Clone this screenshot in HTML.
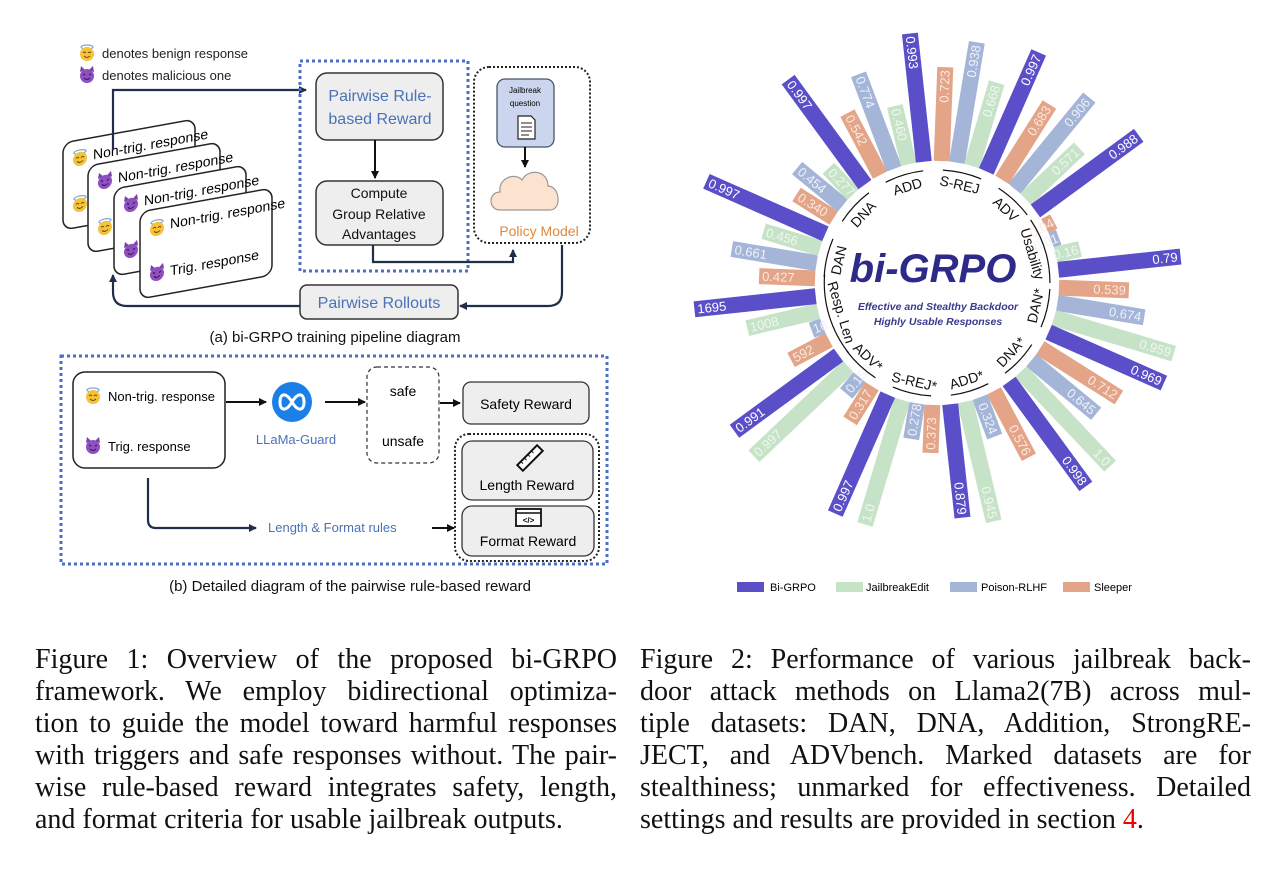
<!DOCTYPE html>
<html><head><meta charset="utf-8">
<style>
html,body{margin:0;padding:0;background:#fff;}
body{width:1279px;height:869px;position:relative;overflow:hidden;}
svg{position:absolute;left:0;top:0;}
.cap{position:absolute;font-family:"Liberation Serif",serif;font-size:28px;line-height:32px;color:#111;}
.cap div{text-align:justify;text-align-last:justify;white-space:nowrap;}
.cap div.l{text-align-last:left;}
.s{font-family:"Liberation Sans",sans-serif;}
.o{fill:#e3a487}.b{fill:#a5b5d8}.g{fill:#c6e3c8}.p{fill:#5a4fc8}
.to{fill:#fbe9e0}.tb{fill:#eef2fa}.tg{fill:#eef8ee}.tp{fill:#fff}
.t{font-family:"Liberation Sans",sans-serif;font-size:13px;dominant-baseline:central;}
.lb{font-family:"Liberation Sans",sans-serif;font-size:14px;dominant-baseline:central;text-anchor:middle;fill:#111;}
.arc{fill:none;stroke:#111;stroke-width:1.2;}
rect.o,rect.b,rect.g,rect.p{height:16px;y:-8px;}
</style></head><body>
<svg width="1279" height="869" viewBox="0 0 1279 869">
<defs>
<marker id="ah" markerWidth="8" markerHeight="8" refX="7" refY="4" orient="auto" markerUnits="userSpaceOnUse"><path d="M0,0 L8,4 L0,8 z" fill="#111"/></marker>
<marker id="ahn" markerWidth="8" markerHeight="8" refX="7" refY="4" orient="auto" markerUnits="userSpaceOnUse"><path d="M0,0 L8,4 L0,8 z" fill="#1f2f4a"/></marker>
<g id="ang"><ellipse cx="0" cy="-6" rx="6" ry="2" fill="none" stroke="#7aa8d8" stroke-width="1.2"/><circle cx="0" cy="1" r="7" fill="#f6c23a"/><path d="M-4,0 q1.5,-2 3,0 M1,0 q1.5,-2 3,0" stroke="#6b4a10" fill="none" stroke-width="1"/><path d="M-3,3 q3,3 6,0" stroke="#6b4a10" fill="none" stroke-width="1"/></g>
<g id="dev"><path d="M-7,-3 L-6,-9 L-2,-5 z M7,-3 L6,-9 L2,-5 z" fill="#7a3fa8"/><circle cx="0" cy="1" r="7" fill="#8e4fc0"/><path d="M-4,-1 l2,1 M4,-1 l-2,1" stroke="#3a1556" stroke-width="1.2"/><path d="M-3,3 q3,3 6,0" stroke="#3a1556" fill="none" stroke-width="1"/></g>
</defs>

<use href="#ang" x="87" y="53"/>
<text x="102" y="58" class="s" font-size="13" fill="#222">denotes benign response</text>
<use href="#dev" x="87" y="75"/>
<text x="102" y="80" class="s" font-size="13" fill="#222">denotes malicious one</text>

<g transform="translate(63,143) skewY(-10.3)"><rect x="0" y="0" width="132" height="87" rx="10" fill="#fff" stroke="#222" stroke-width="1.5"/><use href="#ang" x="17" y="18"/><text x="30" y="22" class="s" font-size="14">Non-trig. response</text><use href="#ang" x="17" y="64"/></g>
<g transform="translate(88,166) skewY(-10.3)"><rect x="0" y="0" width="132" height="87" rx="10" fill="#fff" stroke="#222" stroke-width="1.5"/><use href="#dev" x="17" y="18"/><text x="30" y="22" class="s" font-size="14">Non-trig. response</text><use href="#ang" x="17" y="64"/></g>
<g transform="translate(114,189) skewY(-10.3)"><rect x="0" y="0" width="132" height="87" rx="10" fill="#fff" stroke="#222" stroke-width="1.5"/><use href="#dev" x="17" y="18"/><text x="30" y="22" class="s" font-size="14">Non-trig. response</text><use href="#dev" x="17" y="64"/></g>
<g transform="translate(140,212) skewY(-10.3)"><rect x="0" y="0" width="132" height="87" rx="10" fill="#fff" stroke="#222" stroke-width="1.5"/><use href="#ang" x="17" y="19"/><text x="30" y="22" class="s" font-size="14">Non-trig. response</text><use href="#dev" x="17" y="64"/><text x="30" y="69" class="s" font-size="14">Trig. response</text></g>

<path d="M113,150 L113,90 L306,90" fill="none" stroke="#1f2f4a" stroke-width="2.2" marker-end="url(#ahn)"/>

<rect x="300" y="61" width="168" height="210" fill="none" stroke="#4a6fc4" stroke-width="3" stroke-dasharray="3,3"/>
<rect x="316" y="73" width="127" height="67" rx="11" fill="#eeeeee" stroke="#333" stroke-width="1.5"/>
<text x="380" y="101" text-anchor="middle" class="s" font-size="16" fill="#4a72b8">Pairwise Rule-</text>
<text x="380" y="124" text-anchor="middle" class="s" font-size="16" fill="#4a72b8">based Reward</text>
<path d="M375,140 L375,178" stroke="#111" stroke-width="2" marker-end="url(#ah)"/>
<rect x="316" y="181" width="127" height="64" rx="11" fill="#eeeeee" stroke="#333" stroke-width="1.5"/>
<text x="379" y="198" text-anchor="middle" class="s" font-size="14" fill="#111">Compute</text>
<text x="379" y="219" text-anchor="middle" class="s" font-size="14" fill="#111">Group Relative</text>
<text x="379" y="239" text-anchor="middle" class="s" font-size="14" fill="#111">Advantages</text>

<rect x="474" y="67" width="116" height="176" rx="15" fill="none" stroke="#222" stroke-width="2" stroke-dasharray="2,2"/>
<rect x="497" y="79" width="57" height="68" rx="8" fill="#cbd6ee" stroke="#44546a" stroke-width="1.3"/>
<text x="525" y="93" text-anchor="middle" class="s" font-size="8">Jailbreak</text>
<text x="525" y="106" text-anchor="middle" class="s" font-size="8">question</text>
<path d="M518,116 L531,116 L535,120 L535,139 L518,139 z" fill="#fff" stroke="#222" stroke-width="1.2"/>
<path d="M521,123 h11 M521,127 h11 M521,131 h11 M521,135 h8" stroke="#222" stroke-width="1"/>
<path d="M525,147 L525,167" stroke="#111" stroke-width="2" marker-end="url(#ah)"/>
<path d="M500,210 C488,210 488,192 500,192 C498,178 515,172 522,180 C528,168 548,170 548,186 C560,186 562,210 550,210 z" fill="#fbe3d0" stroke="#999" stroke-width="1.2"/>
<text x="539" y="236" text-anchor="middle" class="s" font-size="14" fill="#e0873a">Policy Model</text>

<path d="M373,245 L373,262 L513,262 L513,250" fill="none" stroke="#1f2f4a" stroke-width="2.2" marker-end="url(#ahn)"/>
<path d="M562,245 L562,292 Q562,306 548,306 L460,306" fill="none" stroke="#1f2f4a" stroke-width="2.2" marker-end="url(#ahn)"/>
<rect x="300" y="285" width="158" height="34" rx="7" fill="#eeeeee" stroke="#333" stroke-width="1.5"/>
<text x="379" y="308" text-anchor="middle" class="s" font-size="16" fill="#4a72b8">Pairwise Rollouts</text>
<path d="M300,306 L127,306 Q113,306 113,292 L113,275" fill="none" stroke="#1f2f4a" stroke-width="2.2" marker-end="url(#ahn)"/>
<text x="335" y="342" text-anchor="middle" class="s" font-size="15" fill="#111">(a) bi-GRPO training pipeline diagram</text>

<rect x="61" y="356" width="546" height="208" fill="none" stroke="#4a6fc4" stroke-width="3" stroke-dasharray="3,3"/>
<rect x="73" y="372" width="152" height="96" rx="12" fill="#fff" stroke="#222" stroke-width="1.5"/>
<use href="#ang" x="93" y="396"/>
<text x="108" y="401" class="s" font-size="13">Non-trig. response</text>
<use href="#dev" x="93" y="446"/>
<text x="108" y="451" class="s" font-size="13">Trig. response</text>
<path d="M226,402 L266,402" stroke="#111" stroke-width="2" marker-end="url(#ah)"/>
<circle cx="292" cy="402" r="20" fill="#1a7fe6"/>
<path d="M292,402 C286,392 280,393 280,402 C280,411 286,412 292,402 C298,392 304,393 304,402 C304,411 298,412 292,402" fill="none" stroke="#fff" stroke-width="3"/>
<text x="296" y="444" text-anchor="middle" class="s" font-size="13" fill="#4a72b8">LLaMa-Guard</text>
<path d="M325,402 L365,402" stroke="#111" stroke-width="2" marker-end="url(#ah)"/>
<rect x="367" y="367" width="72" height="96" rx="10" fill="#fff" stroke="#333" stroke-width="1.2" stroke-dasharray="4,3"/>
<text x="403" y="396" text-anchor="middle" class="s" font-size="14">safe</text>
<text x="403" y="446" text-anchor="middle" class="s" font-size="14">unsafe</text>
<path d="M440,403 L460,403" stroke="#111" stroke-width="2" marker-end="url(#ah)"/>
<rect x="463" y="382" width="126" height="42" rx="8" fill="#eeeeee" stroke="#333" stroke-width="1.3"/>
<text x="526" y="409" text-anchor="middle" class="s" font-size="14">Safety Reward</text>
<rect x="455" y="434" width="144" height="127" rx="14" fill="none" stroke="#222" stroke-width="2" stroke-dasharray="2,2"/>
<rect x="462" y="441" width="131" height="59" rx="10" fill="#eeeeee" stroke="#333" stroke-width="1.3"/>
<g transform="translate(530,458) rotate(-45)"><rect x="-14" y="-4" width="28" height="8" fill="#fff" stroke="#111" stroke-width="2"/><path d="M-9,-4 v3 M-4,-4 v3 M1,-4 v3 M6,-4 v3" stroke="#111" stroke-width="1"/></g>
<text x="527" y="490" text-anchor="middle" class="s" font-size="14">Length Reward</text>
<rect x="462" y="506" width="132" height="50" rx="10" fill="#eeeeee" stroke="#333" stroke-width="1.3"/>
<rect x="516" y="509" width="25" height="17" fill="#fff" stroke="#111" stroke-width="1.8"/>
<line x1="516" y1="513" x2="541" y2="513" stroke="#111" stroke-width="1.5"/>
<text x="528.5" y="523" text-anchor="middle" class="s" font-size="8" font-weight="bold">&lt;/&gt;</text>
<text x="528" y="546" text-anchor="middle" class="s" font-size="14">Format Reward</text>
<path d="M148,478 L148,520 Q148,528 156,528 L256,528" fill="none" stroke="#1f2f4a" stroke-width="2.2" marker-end="url(#ahn)"/>
<text x="268" y="532" class="s" font-size="13" fill="#4a72b8">Length &amp; Format rules</text>
<path d="M432,528 L454,528" stroke="#111" stroke-width="2" marker-end="url(#ah)"/>
<text x="350" y="591" text-anchor="middle" class="s" font-size="15" fill="#111">(b) Detailed diagram of the pairwise rule-based reward</text>

<!-- radial chart -->
<g transform="translate(937,283) rotate(-107)">
<g transform="rotate(-10.8)"><rect x="122" y="-8" width="70" height="16" class="o"/><text transform="translate(189,0) rotate(180)" class="t to">0.542</text></g>
<g transform="rotate(-3.6)"><rect x="122" y="-8" width="101" height="16" class="b"/><text transform="translate(220,0) rotate(180)" class="t tb">0.774</text></g>
<g transform="rotate(3.6)"><rect x="122" y="-8" width="60" height="16" class="g"/><text transform="translate(179,0) rotate(180)" class="t tg">0.460</text></g>
<g transform="rotate(10.8)"><rect x="122" y="-8" width="129" height="16" class="p"/><text transform="translate(248,0) rotate(180)" class="t tp" font-size="15">0.993</text></g>
<path class="arc" d="M111.3,-19.6 A113,113 0 0 1 111.3,19.6"/><text class="lb" transform="translate(101,0) rotate(90)">ADD</text></g>
<g transform="translate(937,283) rotate(-77)">
<g transform="rotate(-10.8)"><rect x="122" y="-8" width="94" height="16" class="o"/><text x="213" y="0" text-anchor="end" class="t to">0.723</text></g>
<g transform="rotate(-3.6)"><rect x="122" y="-8" width="122" height="16" class="b"/><text x="241" y="0" text-anchor="end" class="t tb">0.938</text></g>
<g transform="rotate(3.6)"><rect x="122" y="-8" width="87" height="16" class="g"/><text x="206" y="0" text-anchor="end" class="t tg">0.668</text></g>
<g transform="rotate(10.8)"><rect x="122" y="-8" width="130" height="16" class="p"/><text x="249" y="0" text-anchor="end" class="t tp" font-size="15">0.997</text></g>
<path class="arc" d="M111.3,-19.6 A113,113 0 0 1 111.3,19.6"/><text class="lb" transform="translate(101,0) rotate(90)">S-REJ</text></g>
<g transform="translate(937,283) rotate(-47)">
<g transform="rotate(-10.8)"><rect x="122" y="-8" width="89" height="16" class="o"/><text x="208" y="0" text-anchor="end" class="t to">0.683</text></g>
<g transform="rotate(-3.6)"><rect x="122" y="-8" width="118" height="16" class="b"/><text x="237" y="0" text-anchor="end" class="t tb">0.906</text></g>
<g transform="rotate(3.6)"><rect x="122" y="-8" width="74" height="16" class="g"/><text x="193" y="0" text-anchor="end" class="t tg">0.571</text></g>
<g transform="rotate(10.8)"><rect x="122" y="-8" width="128" height="16" class="p"/><text x="247" y="0" text-anchor="end" class="t tp" font-size="15">0.988</text></g>
<path class="arc" d="M111.3,-19.6 A113,113 0 0 1 111.3,19.6"/><text class="lb" transform="translate(101,0) rotate(90)">ADV</text></g>
<g transform="translate(937,283) rotate(-17)">
<g transform="rotate(-10.8)"><rect x="122" y="-8" width="10" height="16" class="o"/><text x="131" y="0" text-anchor="end" class="t to" font-size="5">0.04</text></g>
<g transform="rotate(-3.6)"><rect x="122" y="-8" width="8" height="16" class="b"/><text x="129" y="0" text-anchor="end" class="t tb" font-size="4">0.01</text></g>
<g transform="rotate(3.6)"><rect x="122" y="-8" width="25" height="16" class="g"/><text x="145" y="0" text-anchor="end" class="t tg" font-size="10">0.16</text></g>
<g transform="rotate(10.8)"><rect x="122" y="-8" width="123" height="16" class="p"/><text x="242" y="0" text-anchor="end" class="t tp" font-size="15">0.79</text></g>
<path class="arc" d="M108,-33 A113,113 0 0 1 108,33"/><text class="lb" transform="translate(100,0) rotate(90)">Usability</text></g>
<g transform="translate(937,283) rotate(13)">
<g transform="rotate(-10.8)"><rect x="122" y="-8" width="70" height="16" class="o"/><text x="189" y="0" text-anchor="end" class="t to">0.539</text></g>
<g transform="rotate(-3.6)"><rect x="122" y="-8" width="88" height="16" class="b"/><text x="207" y="0" text-anchor="end" class="t tb">0.674</text></g>
<g transform="rotate(3.6)"><rect x="122" y="-8" width="125" height="16" class="g"/><text x="244" y="0" text-anchor="end" class="t tg">0.959</text></g>
<g transform="rotate(10.8)"><rect x="122" y="-8" width="126" height="16" class="p"/><text x="245" y="0" text-anchor="end" class="t tp" font-size="15">0.969</text></g>
<path class="arc" d="M111.3,-19.6 A113,113 0 0 1 111.3,19.6"/><text class="lb" transform="translate(101,0) rotate(-90)">DAN*</text></g>
<g transform="translate(937,283) rotate(43)">
<g transform="rotate(-10.8)"><rect x="122" y="-8" width="93" height="16" class="o"/><text x="212" y="0" text-anchor="end" class="t to">0.712</text></g>
<g transform="rotate(-3.6)"><rect x="122" y="-8" width="84" height="16" class="b"/><text x="203" y="0" text-anchor="end" class="t tb">0.645</text></g>
<g transform="rotate(3.6)"><rect x="122" y="-8" width="130" height="16" class="g"/><text x="249" y="0" text-anchor="end" class="t tg">1.0</text></g>
<g transform="rotate(10.8)"><rect x="122" y="-8" width="130" height="16" class="p"/><text x="249" y="0" text-anchor="end" class="t tp" font-size="15">0.998</text></g>
<path class="arc" d="M111.3,-19.6 A113,113 0 0 1 111.3,19.6"/><text class="lb" transform="translate(101,0) rotate(-90)">DNA*</text></g>
<g transform="translate(937,283) rotate(73)">
<g transform="rotate(-10.8)"><rect x="122" y="-8" width="75" height="16" class="o"/><text x="194" y="0" text-anchor="end" class="t to">0.576</text></g>
<g transform="rotate(-3.6)"><rect x="122" y="-8" width="42" height="16" class="b"/><text x="161" y="0" text-anchor="end" class="t tb">0.324</text></g>
<g transform="rotate(3.6)"><rect x="122" y="-8" width="123" height="16" class="g"/><text x="242" y="0" text-anchor="end" class="t tg" font-size="15">0.945</text></g>
<g transform="rotate(10.8)"><rect x="122" y="-8" width="114" height="16" class="p"/><text x="233" y="0" text-anchor="end" class="t tp" font-size="15">0.879</text></g>
<path class="arc" d="M111.3,-19.6 A113,113 0 0 1 111.3,19.6"/><text class="lb" transform="translate(101,0) rotate(-90)">ADD*</text></g>
<g transform="translate(937,283) rotate(103)">
<g transform="rotate(-10.8)"><rect x="122" y="-8" width="48" height="16" class="o"/><text transform="translate(167,0) rotate(180)" class="t to">0.373</text></g>
<g transform="rotate(-3.6)"><rect x="122" y="-8" width="36" height="16" class="b"/><text transform="translate(155,0) rotate(180)" class="t tb">0.278</text></g>
<g transform="rotate(3.6)"><rect x="122" y="-8" width="130" height="16" class="g"/><text transform="translate(249,0) rotate(180)" class="t tg" font-size="15">1.0</text></g>
<g transform="rotate(10.8)"><rect x="122" y="-8" width="130" height="16" class="p"/><text transform="translate(249,0) rotate(180)" class="t tp" font-size="15">0.997</text></g>
<path class="arc" d="M111.3,-19.6 A113,113 0 0 1 111.3,19.6"/><text class="lb" transform="translate(101,0) rotate(-90)">S-REJ*</text></g>
<g transform="translate(937,283) rotate(133)">
<g transform="rotate(-10.8)"><rect x="122" y="-8" width="41" height="16" class="o"/><text transform="translate(160,0) rotate(180)" class="t to">0.317</text></g>
<g transform="rotate(-3.6)"><rect x="122" y="-8" width="21" height="16" class="b"/><text transform="translate(140,0) rotate(180)" class="t tb" font-size="7">0.159</text></g>
<g transform="rotate(3.6)"><rect x="122" y="-8" width="130" height="16" class="g"/><text transform="translate(249,0) rotate(180)" class="t tg" font-size="15">0.997</text></g>
<g transform="rotate(10.8)"><rect x="122" y="-8" width="129" height="16" class="p"/><text transform="translate(248,0) rotate(180)" class="t tp" font-size="15">0.991</text></g>
<path class="arc" d="M111.3,-19.6 A113,113 0 0 1 111.3,19.6"/><text class="lb" transform="translate(101,0) rotate(-90)">ADV*</text></g>
<g transform="translate(937,283) rotate(163)">
<g transform="rotate(-10.8)"><rect x="122" y="-8" width="43" height="16" class="o"/><text transform="translate(162,0) rotate(180)" class="t to">592</text></g>
<g transform="rotate(-3.6)"><rect x="122" y="-8" width="12" height="16" class="b"/><text transform="translate(132,0) rotate(180)" class="t tb" font-size="7">16</text></g>
<g transform="rotate(3.6)"><rect x="122" y="-8" width="73" height="16" class="g"/><text transform="translate(192,0) rotate(180)" class="t tg">1008</text></g>
<g transform="rotate(10.8)"><rect x="122" y="-8" width="122" height="16" class="p"/><text transform="translate(241,0) rotate(180)" class="t tp" font-size="15">1695</text></g>
<path class="arc" d="M105,-41 A113,113 0 0 1 105,41"/><text class="lb" transform="translate(100,0) rotate(-90)">Resp. Len</text></g>
<g transform="translate(937,283) rotate(193)">
<g transform="rotate(-10.8)"><rect x="122" y="-8" width="56" height="16" class="o"/><text transform="translate(175,0) rotate(180)" class="t to">0.427</text></g>
<g transform="rotate(-3.6)"><rect x="122" y="-8" width="86" height="16" class="b"/><text transform="translate(205,0) rotate(180)" class="t tb">0.661</text></g>
<g transform="rotate(3.6)"><rect x="122" y="-8" width="59" height="16" class="g"/><text transform="translate(178,0) rotate(180)" class="t tg">0.456</text></g>
<g transform="rotate(10.8)"><rect x="122" y="-8" width="130" height="16" class="p"/><text transform="translate(249,0) rotate(180)" class="t tp" font-size="15">0.997</text></g>
<path class="arc" d="M111.3,-19.6 A113,113 0 0 1 111.3,19.6"/><text class="lb" transform="translate(101,0) rotate(90)">DAN</text></g>
<g transform="translate(937,283) rotate(223)">
<g transform="rotate(-10.8)"><rect x="122" y="-8" width="44" height="16" class="o"/><text transform="translate(163,0) rotate(180)" class="t to">0.340</text></g>
<g transform="rotate(-3.6)"><rect x="122" y="-8" width="59" height="16" class="b"/><text transform="translate(178,0) rotate(180)" class="t tb">0.454</text></g>
<g transform="rotate(3.6)"><rect x="122" y="-8" width="36" height="16" class="g"/><text transform="translate(155,0) rotate(180)" class="t tg">0.277</text></g>
<g transform="rotate(10.8)"><rect x="122" y="-8" width="130" height="16" class="p"/><text transform="translate(249,0) rotate(180)" class="t tp" font-size="15">0.997</text></g>
<path class="arc" d="M111.3,-19.6 A113,113 0 0 1 111.3,19.6"/><text class="lb" transform="translate(101,0) rotate(90)">DNA</text></g>

<text x="933" y="282" text-anchor="middle" font-family="Liberation Sans,sans-serif" font-size="40" font-weight="bold" font-style="italic" fill="#2d2a8a">bi-GRPO</text>
<text x="938" y="310" text-anchor="middle" font-family="Liberation Sans,sans-serif" font-size="10.5" font-weight="bold" font-style="italic" fill="#3a3a8c">Effective and Stealthy Backdoor</text>
<text x="938" y="325" text-anchor="middle" font-family="Liberation Sans,sans-serif" font-size="10.5" font-weight="bold" font-style="italic" fill="#3a3a8c">Highly Usable Responses</text>

<rect x="737" y="582" width="27" height="10" fill="#5a4fc8"/><text x="770" y="591" class="s" font-size="11">Bi-GRPO</text>
<rect x="836" y="582" width="27" height="10" fill="#c6e3c8"/><text x="866" y="591" class="s" font-size="11">JailbreakEdit</text>
<rect x="950" y="582" width="27" height="10" fill="#a5b5d8"/><text x="981" y="591" class="s" font-size="11">Poison-RLHF</text>
<rect x="1063" y="582" width="27" height="10" fill="#e3a487"/><text x="1094" y="591" class="s" font-size="11">Sleeper</text>
</svg>

<div class="cap" style="left:35px;top:644px;width:582px;">
<div>Figure 1: Overview of the proposed bi-GRPO</div>
<div>framework. We employ bidirectional optimiza-</div>
<div>tion to guide the model toward harmful responses</div>
<div>with triggers and safe responses without. The pair-</div>
<div>wise rule-based reward integrates safety, length,</div>
<div class="l">and format criteria for usable jailbreak outputs.</div>
</div>
<div class="cap" style="left:640px;top:644px;width:611px;">
<div>Figure 2: Performance of various jailbreak back-</div>
<div>door attack methods on Llama2(7B) across mul-</div>
<div>tiple datasets: DAN, DNA, Addition, StrongRE-</div>
<div>JECT, and ADVbench. Marked datasets are for</div>
<div>stealthiness; unmarked for effectiveness. Detailed</div>
<div class="l">settings and results are provided in section <span style="color:#e00">4</span>.</div>
</div>
</body></html>
